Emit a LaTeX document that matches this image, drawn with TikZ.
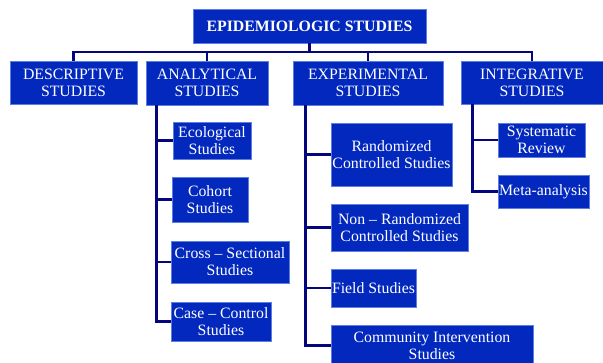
\documentclass[tikz,border=0pt]{standalone}
\usepackage{fontspec}
\setmainfont{Liberation Serif}
\definecolor{boxfill}{RGB}{2,40,190}
\definecolor{boxedge}{RGB}{95,125,225}
\definecolor{linkcol}{RGB}{5,5,125}
\tikzset{
  studybox/.style={draw=boxedge, line width=0.8pt, fill=boxfill, text=white,
    align=center, inner sep=0pt, font=\fontsize{15.8}{17}\selectfont},
  headbox/.style={studybox, font=\fontsize{15.8}{17}\selectfont\bfseries},
  conn/.style={draw=linkcol, line width=2.4pt}
}
\newcommand{\studynode}[6]{%
  \node[studybox, minimum width=#4pt, minimum height=#5pt] (#1) at (#2,#3) {#6};}
\begin{document}
\begin{tikzpicture}[x=1pt,y=-1pt]
  \useasboundingbox (0,0) rectangle (603,362);
  \clip (0,0) rectangle (603,362);
  \fill[white] (0,0) rectangle (603,362);

  % root and the four families of studies
  \node[headbox, minimum width=233pt, minimum height=34pt] (root) at (309.5,26) {EPIDEMIOLOGIC STUDIES};
  \studynode{desc}{73.5}{82.5}{127}{43}{DESCRIPTIVE\\STUDIES}
  \studynode{anal}{207}{83}{122}{44}{ANALYTICAL\\STUDIES}
  \studynode{expe}{368}{83}{150}{44}{EXPERIMENTAL\\STUDIES}
  \studynode{inte}{532}{82.5}{142}{43}{INTEGRATIVE\\STUDIES}

  % analytical studies
  \studynode{eco}{212}{140.5}{78}{37}{Ecological\\Studies}
  \studynode{coh}{210}{199.5}{76}{45}{Cohort\\Studies}
  \studynode{cross}{230}{262}{118}{42}{Cross – Sectional\\Studies}
  \studynode{case}{221}{321.5}{100}{39}{Case – Control\\Studies}

  % experimental studies
  \studynode{rand}{391.5}{154.5}{121}{63}{Randomized\\Controlled Studies}
  \studynode{nonr}{399.5}{227.5}{137}{47}{Non – Randomized\\Controlled Studies}
  \studynode{field}{373.5}{288}{85}{38}{Field Studies}
  \studynode{comm}{432}{345.5}{202}{41}{Community Intervention\\Studies}

  % integrative studies
  \studynode{sys}{541.5}{140}{87}{34}{Systematic\\Review}
  \studynode{meta}{543.5}{191.5}{91}{33}{Meta-analysis}

  % bus below the root
  \coordinate (bus) at (0,52);
  \draw[conn] (desc.north) |- (bus -| inte.north) -- (inte.north);
  \draw[conn] (anal.north) -- (anal.north |- bus);
  \draw[conn] (expe.north) -- (expe.north |- bus);
  \draw[conn] (root.south) -- (root.south |- bus);

  % spines to the sub-studies
  \foreach \c in {eco,coh,cross,case}
    \draw[conn] ([xshift=11pt]anal.south west) |- (\c.west);
  \foreach \c in {rand,nonr,field,comm}
    \draw[conn] ([xshift=13pt]expe.south west) |- (\c.west);
  \foreach \c in {sys,meta}
    \draw[conn] ([xshift=12pt]inte.south west) |- (\c.west);
\end{tikzpicture}
\end{document}
